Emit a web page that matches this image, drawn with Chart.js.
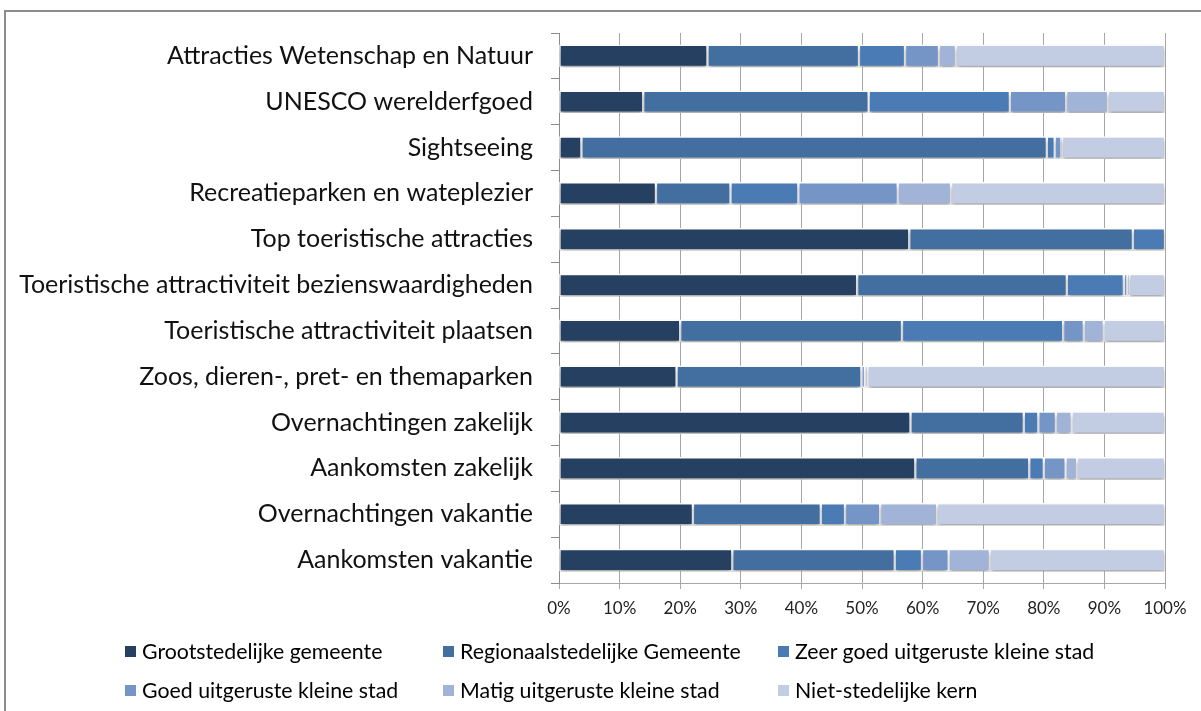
<!DOCTYPE html>
<html>
<head>
<meta charset="utf-8">
<script src="https://cdn.jsdelivr.net/npm/chart.js@4"></script>
<style>
  html, body { margin: 0; padding: 0; background: #fff; }
  #wrap { position: relative; width: 1201px; height: 711px; overflow: hidden; }
  #frame { position: absolute; left: 4px; top: 10px; width: 1300px; height: 800px;
           border-left: 2px solid #8c8c8c; border-top: 2px solid #8c8c8c; box-sizing: border-box; }
  canvas { position: absolute; left: 0; top: 0; }
  #legend { position: absolute; left: 0; top: 0; width: 1201px; height: 711px; pointer-events: none;
            font-family: Lato, "Open Sans", sans-serif; font-size: 21.3px; color: #000; }
  .li { position: absolute; white-space: nowrap; display: flex; align-items: center; }
  .sw { width: 11px; height: 11px; margin-right: 6px; display: inline-block; }
</style>
</head>
<body>
<div id="wrap">
  <div id="frame"></div>
  <canvas id="c" width="1201" height="711"></canvas>
  <div id="legend"></div>
</div>
<script>
const categories = [
  "Attracties Wetenschap en Natuur",
  "UNESCO werelderfgoed",
  "Sightseeing",
  "Recreatieparken en wateplezier",
  "Top toeristische attracties",
  "Toeristische attractiviteit bezienswaardigheden",
  "Toeristische attractiviteit plaatsen",
  "Zoos, dieren-, pret- en themaparken",
  "Overnachtingen zakelijk",
  "Aankomsten zakelijk",
  "Overnachtingen vakantie",
  "Aankomsten vakantie"
];
const seriesNames = [
  "Grootstedelijke gemeente",
  "Regionaalstedelijke Gemeente",
  "Zeer goed uitgeruste kleine stad",
  "Goed uitgeruste kleine stad",
  "Matig uitgeruste kleine stad",
  "Niet-stedelijke kern"
];
const grootstedelijk = [24.5, 13.9, 3.7, 16.0, 57.8, 49.2, 20.0, 19.4, 58.0, 58.8, 22.1, 28.6];
const regionaal      = [25.0, 37.2, 76.8, 12.3, 36.9, 34.6, 36.6, 30.5, 18.7, 18.8, 21.1, 26.8];
const zeerGoed       = [ 7.6, 23.3,  1.3, 11.2,  5.3,  9.4, 26.6,  0.0,  2.4,  2.4,  4.0,  4.5];
const goed           = [ 5.6,  9.3,  1.1, 16.4,  0.0,  0.6,  3.4,  0.6,  2.9,  3.6,  5.8,  4.4];
const matig          = [ 2.8,  6.9,  0.1,  8.8,  0.0,  0.3,  3.3,  0.4,  2.6,  1.9,  9.4,  6.8];
const nietStedelijk  = [34.5,  9.4, 17.0, 35.3,  0.0,  5.9, 10.1, 49.1, 15.4, 14.5, 37.6, 28.9];
const xTickLabels = ["0%","10%","20%","30%","40%","50%","60%","70%","80%","90%","100%"];

const colors = ["#254061", "#426EA0", "#4A7BB5", "#7595C7", "#A1B3D6", "#C2CCE2"];
const seriesValues = [grootstedelijk, regionaal, zeerGoed, goed, matig, nietStedelijk];

const datasets = seriesNames.map((name, i) => ({
  label: name,
  data: seriesValues[i],
  backgroundColor: colors[i],
  borderColor: "#ffffff",
  borderWidth: 1.5,
  borderSkipped: false,
  barThickness: 22
}));

const shadowPlugin = {
  id: "barShadow",
  beforeDatasetsDraw(chart) {
    const ctx = chart.ctx;
    ctx.save();
    ctx.shadowColor = "rgba(0,0,0,0.35)";
    ctx.shadowBlur = 4;
    ctx.shadowOffsetY = 3;
  },
  afterDatasetsDraw(chart) {
    chart.ctx.restore();
  }
};

const labelFont = "Lato, 'Open Sans', sans-serif";

new Chart(document.getElementById("c"), {
  type: "bar",
  data: { labels: categories, datasets },
  plugins: [shadowPlugin],
  options: {
    indexAxis: "y",
    responsive: false,
    animation: false,
    layout: { padding: { left: 0, right: 36, top: 30, bottom: 88 } },
    plugins: { legend: { display: false }, tooltip: { enabled: false } },
    scales: {
      x: {
        stacked: true,
        min: 0, max: 100,
        afterFit(s) { s.height = 40; },
        ticks: {
          stepSize: 10,
          color: "#222",
          padding: 9,
          font: { family: labelFont, size: 17 },
          callback: (v, i) => xTickLabels[i]
        },
        grid: { color: "#a6a6a6", lineWidth: 1, tickLength: 6, drawTicks: true },
        border: { color: "#a6a6a6", width: 1 }
      },
      y: {
        stacked: true,
        afterFit(s) { s.width = 559; },
        ticks: {
          color: "#111",
          padding: 18,
          font: { family: labelFont, size: 25 }
        },
        grid: { offset: true, drawOnChartArea: false, tickLength: 8, color: "#8c8c8c" },
        border: { color: "#8c8c8c", width: 1 }
      }
    }
  }
});

// HTML legend, in three columns and two rows
const legendEl = document.getElementById("legend");
const colX = [125, 443, 778];
const rowY = [651, 690];
seriesNames.forEach((name, i) => {
  const d = document.createElement("div");
  d.className = "li";
  d.style.left = colX[i % 3] + "px";
  d.style.top = (rowY[Math.floor(i / 3)] - 14) + "px";
  d.style.height = "28px";
  const sw = document.createElement("span");
  sw.className = "sw";
  sw.style.background = colors[i];
  const t = document.createElement("span");
  t.textContent = name;
  d.appendChild(sw);
  d.appendChild(t);
  legendEl.appendChild(d);
});
</script>
</body>
</html>
